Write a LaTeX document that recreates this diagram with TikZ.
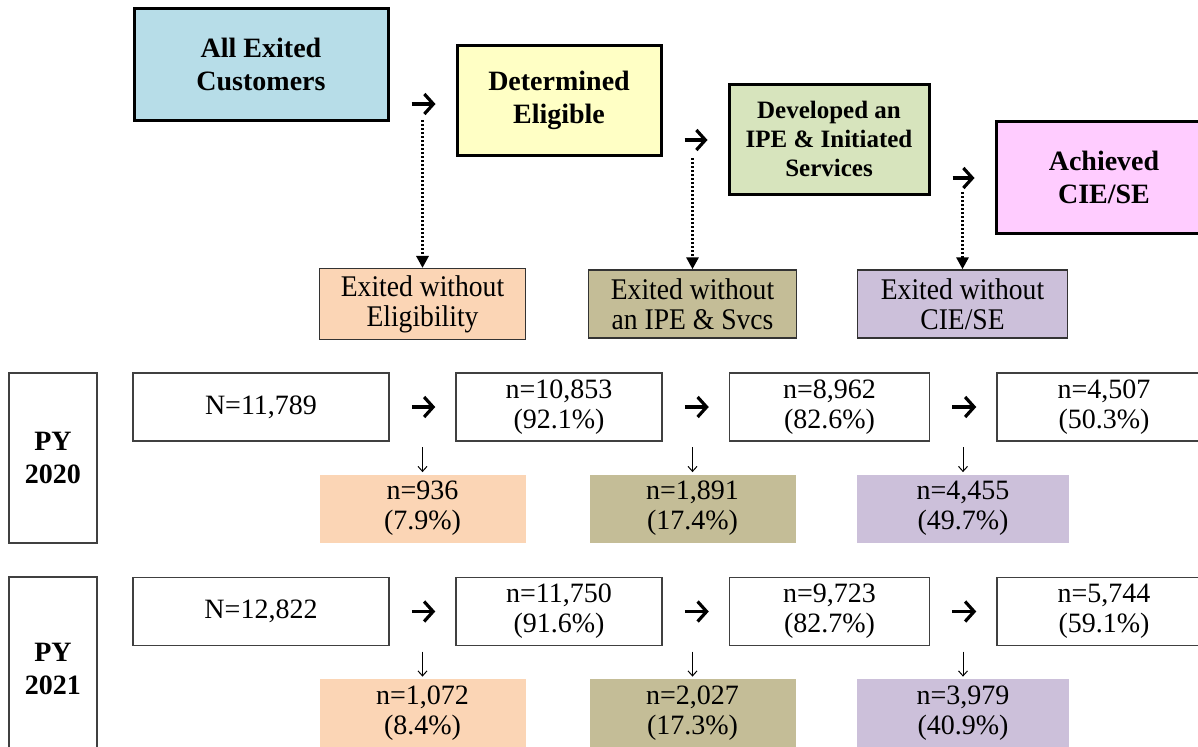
\documentclass[tikz,border=0pt]{standalone}
\usepackage{fontspec}
\setmainfont{Liberation Serif}
\newfontfamily\narrowfont[FakeStretch=0.92]{Liberation Serif}
\usetikzlibrary{arrows.meta,shadows,calc}
\definecolor{custblue}{HTML}{B7DDE8}
\definecolor{eligyellow}{HTML}{FFFFC5}
\definecolor{ipegreen}{HTML}{D7E4BD}
\definecolor{ciepink}{HTML}{FFCCFF}
\definecolor{peach}{HTML}{FBD5B5}
\definecolor{khaki}{HTML}{C4BD97}
\definecolor{lavender}{HTML}{CCC0DA}
\tikzset{hdr/.style={draw, line width=1.5pt, align=center, inner sep=2pt, font=\bfseries\fontsize{14}{16.5}\selectfont,
  drop shadow={shadow xshift=1pt, shadow yshift=-1pt, opacity=1, fill=black}}}
\tikzset{exbox/.style={draw=black!80, line width=0.75pt, align=center, minimum height=34pt, font=\narrowfont\fontsize{15}{15}\selectfont}}
\tikzset{numbox/.style={draw=black!75, line width=0.75pt, fill=white, align=center, minimum height=34pt, font=\fontsize{14}{15}\selectfont}}
\tikzset{lossbox/.style={align=center, minimum height=34pt, font=\fontsize{14}{15}\selectfont}}
\tikzset{pybox/.style={draw=black!75, line width=0.75pt, align=center, minimum width=44pt, font=\bfseries\fontsize{14}{16.5}\selectfont}}
\tikzset{nextarr/.style={line width=1.6pt, -{Straight Barb[length=4.5pt,width=10pt]}, shorten <=11pt, shorten >=10pt}}
\tikzset{dotarrow/.style={line width=1.5pt, dash pattern=on 1pt off 1pt, -{Triangle[length=6pt,width=6pt]}}}
\tikzset{downarr/.style={line width=0.5pt, -{Straight Barb[length=2.5pt,width=4.5pt]}, shorten >=1pt}}

\begin{document}
\begin{tikzpicture}[x=0.5pt,y=-0.5pt]
\clip (0,0) rectangle (1198,746);

% stage headings
\node[hdr, fill=custblue, minimum width=127pt, minimum height=56pt] (all) at (261,64) {All Exited\\Customers};
\node[hdr, fill=eligyellow, minimum width=102pt, minimum height=55pt] (elig) at (559,100) {Determined\\Eligible};
\node[hdr, fill=ipegreen, minimum width=100pt, minimum height=55pt, font=\bfseries\fontsize{12.5}{14.5}\selectfont] (ipe) at (829,139) {Developed an\\IPE \& Initiated\\Services};
\node[hdr, fill=ciepink, minimum width=108pt, minimum height=56pt] (cie) at (1104,177) {Achieved\\CIE/SE};

% exits
\node[exbox, fill=peach, minimum width=103pt] (e1) at (422.5,304) {Exited without\\Eligibility};
\node[exbox, fill=khaki, minimum width=104pt] (e2) at (692.5,304) {Exited without\\an IPE \& Svcs};
\node[exbox, fill=lavender, minimum width=105pt] (e3) at (962.5,304) {Exited without\\CIE/SE};

\coordinate (h1) at (425,104);
\coordinate (h2) at (696,140);
\coordinate (h3) at (965,178);
\draw[nextarr] (all.east |- h1) -- (elig.west |- h1);
\draw[nextarr] (elig.east |- h2) -- (ipe.west |- h2);
\draw[nextarr] (ipe.east |- h3) -- (cie.west |- h3);
\foreach \c/\x/\y in {1/422.5/120,2/692.5/158,3/962.5/192}{
  \coordinate (d\c) at (\x,\y);
  \draw[dotarrow] (d\c) -- (e\c.north);
}

% PY 2020
\node[pybox, minimum height=85pt] (py20) at (53,458) {PY\\2020};
\node[numbox, minimum width=128pt] (na1) at (261,407) {N=11,789};
\node[numbox, minimum width=103pt] (na2) at (559,407) {n=10,853\\(92.1\%)};
\node[numbox, minimum width=100pt] (na3) at (829.5,407) {n=8,962\\(82.6\%)};
\node[numbox, minimum width=107pt] (na4) at (1104,407) {n=4,507\\(50.3\%)};
\node[lossbox, fill=peach, minimum width=103pt] (la1) at (422.5,508.5) {n=936\\(7.9\%)};
\node[lossbox, fill=khaki, minimum width=103pt] (la2) at (692.5,508.5) {n=1,891\\(17.4\%)};
\node[lossbox, fill=lavender, minimum width=106pt] (la3) at (963,508.5) {n=4,455\\(49.7\%)};

% PY 2021
\node[pybox, minimum height=92pt] (py21) at (53,669) {PY\\2021};
\node[numbox, minimum width=128pt] (nb1) at (261,611.5) {N=12,822};
\node[numbox, minimum width=103pt] (nb2) at (559,611.5) {n=11,750\\(91.6\%)};
\node[numbox, minimum width=100pt] (nb3) at (829.5,611.5) {n=9,723\\(82.7\%)};
\node[numbox, minimum width=107pt] (nb4) at (1104,611.5) {n=5,744\\(59.1\%)};
\node[lossbox, fill=peach, minimum width=103pt] (lb1) at (422.5,713) {n=1,072\\(8.4\%)};
\node[lossbox, fill=khaki, minimum width=103pt] (lb2) at (692.5,713) {n=2,027\\(17.3\%)};
\node[lossbox, fill=lavender, minimum width=106pt] (lb3) at (963,713) {n=3,979\\(40.9\%)};

\foreach \r in {a,b}{
  \foreach \c/\d in {1/2,2/3,3/4}
    \draw[nextarr] (n\r\c) -- (n\r\d);
  \foreach \c in {1,2,3}{
    \coordinate (u\r\c) at ($(l\r\c.north)+(0,-27)$);
    \draw[downarr] (u\r\c) -- (l\r\c.north);
  }
}
\end{tikzpicture}
\end{document}
